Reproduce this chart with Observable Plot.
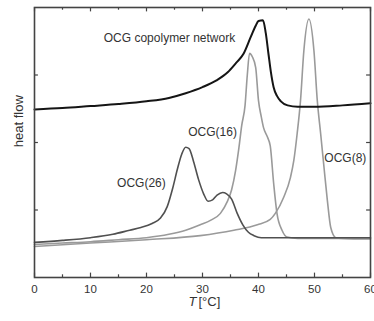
<!DOCTYPE html>
<html>
<head>
<meta charset="utf-8">
<script src="https://cdn.jsdelivr.net/npm/d3@7"></script>
<script src="https://cdn.jsdelivr.net/npm/@observablehq/plot@0.6"></script>
<style>
  html, body { margin: 0; padding: 0; background: #fff; }
  svg { display: block; }
</style>
</head>
<body>
<script>
// ---- data (temperature in °C, heat flow in arbitrary units) ----
const networkT = [0, 5, 10, 15, 20, 24, 27, 30, 32.5, 34.5, 36, 37.3, 38.6, 39.5, 40.0, 40.8, 41.3, 41.8, 42.2, 42.7, 43.3, 44.0, 45.2, 47, 50, 55, 60];
const networkY = [2.49, 2.51, 2.54, 2.57, 2.61, 2.66, 2.73, 2.82, 2.92, 3.04, 3.18, 3.31, 3.56, 3.73, 3.80, 3.81, 3.62, 3.30, 3.05, 2.82, 2.69, 2.61, 2.55, 2.53, 2.53, 2.55, 2.58];

const ocg26T = [0, 5, 10, 14, 17, 19, 21, 22.5, 23.7, 24.7, 25.5, 26.3, 27, 27.6, 28.4, 29.3, 30.2, 31, 31.8, 32.6, 33.6, 34.3, 35.2, 36.2, 37.2, 38.2, 39.2, 40.5, 45, 50, 55, 60];
const ocg26Y = [0.52, 0.55, 0.59, 0.64, 0.70, 0.74, 0.80, 0.88, 1.05, 1.33, 1.60, 1.83, 1.93, 1.91, 1.72, 1.45, 1.24, 1.13, 1.15, 1.22, 1.26, 1.24, 1.16, 0.95, 0.78, 0.67, 0.62, 0.59, 0.59, 0.59, 0.59, 0.59];

const ocg16T = [0, 5, 10, 15, 20, 24, 27, 29.6, 31.5, 33.2, 34.4, 35.2, 35.9, 36.5, 37.0, 37.6, 38.0, 38.4, 38.9, 39.5, 40.0, 40.5, 40.9, 41.6, 42.1, 42.7, 43.3, 44.2, 45.1, 47, 50, 55, 60];
const ocg16Y = [0.49, 0.51, 0.53, 0.56, 0.59, 0.64, 0.70, 0.78, 0.85, 0.95, 1.12, 1.30, 1.58, 1.92, 2.25, 2.55, 3.00, 3.32, 3.27, 3.11, 2.62, 2.38, 2.22, 2.08, 1.95, 1.40, 0.95, 0.70, 0.60, 0.58, 0.58, 0.58, 0.58];

const ocg8T = [0, 10, 20, 29.6, 35.6, 39.8, 42.1, 43.0, 44.5, 45.7, 46.3, 46.9, 47.5, 48.1, 49.0, 49.9, 50.5, 51.1, 51.7, 52.3, 52.9, 53.8, 55, 60];
const ocg8Y = [0.46, 0.51, 0.56, 0.62, 0.70, 0.78, 0.86, 0.95, 1.19, 1.48, 1.73, 2.13, 2.62, 3.36, 3.83, 3.36, 2.62, 2.13, 1.63, 1.14, 0.74, 0.59, 0.58, 0.57];

const xTickLabels = [0, 10, 20, 30, 40, 50, 60];
const xTicks = [0, 5, 10, 15, 20, 25, 30, 35, 40, 45, 50, 55, 60];
const yTicks = [1, 2, 3];

const labelText = ["OCG copolymer network", "OCG(16)", "OCG(26)", "OCG(8)"];
const labelT = [24.1, 31.8, 19.1, 55.5];
const labelY = [3.55, 2.15, 1.40, 1.77];

// ---- build tables ----
const toRows = (T, Y) => T.map((t, i) => ({t, y: Y[i]}));
const network = toRows(networkT, networkY);
const ocg26 = toRows(ocg26T, ocg26Y);
const ocg16 = toRows(ocg16T, ocg16Y);
const ocg8 = toRows(ocg8T, ocg8Y);
const labels = labelText.map((s, i) => ({s, t: labelT[i], y: labelY[i]}));

const frameColor = "#444";
const isMajor = d => d % 10 === 0;

const chart = Plot.plot({
  width: 374,
  height: 321,
  marginLeft: 34,
  marginRight: 4,
  marginTop: 7,
  marginBottom: 44,
  style: {fontFamily: "'Liberation Sans', Arial, sans-serif", fontSize: "12px", color: "#333", background: "#fff", overflow: "visible"},
  x: {domain: [0, 60], axis: null},
  y: {domain: [0, 4], axis: null},
  marks: [
    Plot.line(ocg8, {x: "t", y: "y", stroke: "#9a9a9a", strokeWidth: 1.6, curve: "monotone-x"}),
    Plot.line(ocg16, {x: "t", y: "y", stroke: "#9a9a9a", strokeWidth: 1.6, curve: "monotone-x"}),
    Plot.line(ocg26, {x: "t", y: "y", stroke: "#505050", strokeWidth: 1.6, curve: "monotone-x"}),
    Plot.line(network, {x: "t", y: "y", stroke: "#151515", strokeWidth: 2, curve: "monotone-x"}),
    // inward ticks
    Plot.ruleX(xTicks, {x: d => d, y1: 0, y2: d => isMajor(d) ? 0.065 : 0.04, stroke: frameColor, strokeWidth: 1.2}),
    Plot.ruleX(xTicks, {x: d => d, y1: 4, y2: d => 4 - (isMajor(d) ? 0.065 : 0.04), stroke: frameColor, strokeWidth: 1.2}),
    Plot.ruleY(yTicks, {y: d => d, x1: 0, x2: 0.7, stroke: frameColor, strokeWidth: 1.2}),
    Plot.ruleY(yTicks, {y: d => d, x1: 60, x2: 59.3, stroke: frameColor, strokeWidth: 1.2}),
    Plot.frame({stroke: frameColor, strokeWidth: 1.6}),
    Plot.axisX(xTickLabels, {anchor: "bottom", tickSize: 0, tickPadding: 7, fontSize: 11.5, label: null, fill: "#333"}),
    // axis titles
    Plot.text(["T"], {x: [30], frameAnchor: "bottom", dy: 28, dx: -6, textAnchor: "end", fontStyle: "italic", fontSize: 13, fill: "#333"}),
    Plot.text(["[°C]"], {x: [30], frameAnchor: "bottom", dy: 28, dx: -4, textAnchor: "start", fontSize: 13, fill: "#333"}),
    Plot.text(["heat flow"], {y: [1.93], frameAnchor: "left", dx: -16, rotate: -90, fontSize: 13, fill: "#333"}),
    // curve labels
    Plot.text(labels, {x: "t", y: "y", text: "s", fontSize: 12, fill: "#333", lineAnchor: "middle"})
  ]
});
document.body.appendChild(chart);
</script>
</body>
</html>
